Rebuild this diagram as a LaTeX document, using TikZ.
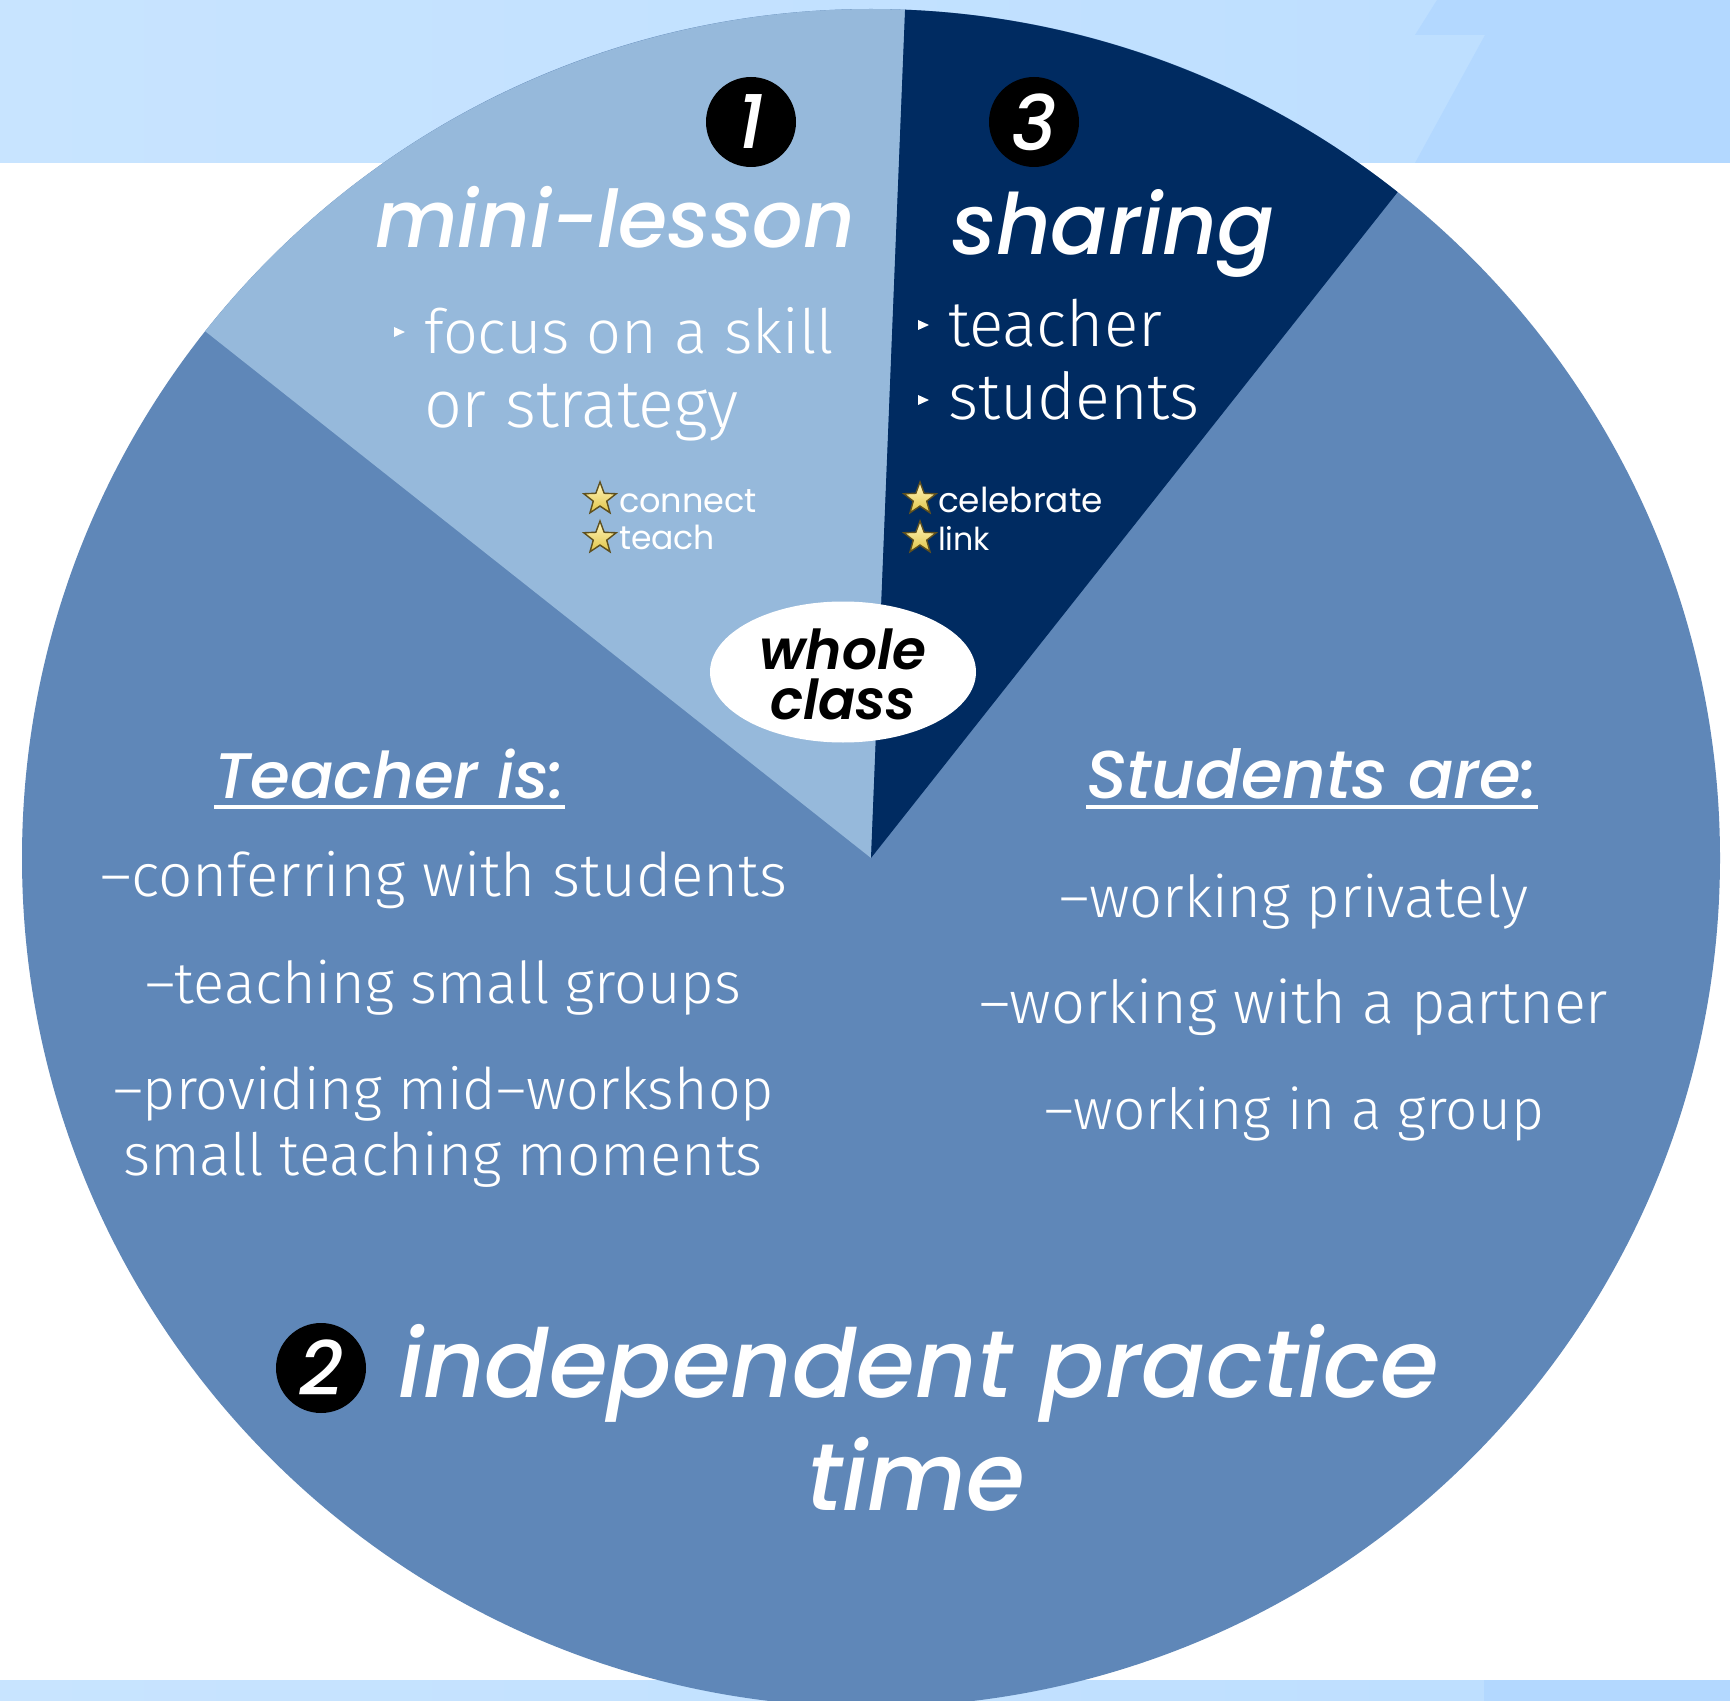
\documentclass[tikz,border=0pt]{standalone}
\usepackage{fontspec}
\usepackage{graphicx}
\IfFontExistsTF{Fira Sans Light}{\setmainfont{Fira Sans Light}}{\setmainfont{Fira Sans}}
\IfFontExistsTF{Poppins Medium}{\newfontfamily\hf{Poppins Medium}}{\newfontfamily\hf{Poppins}}
\IfFontExistsTF{Poppins SemiBold}{\newfontfamily\hfs{Poppins SemiBold}}{\newfontfamily\hfs{Poppins}[UprightFont=*,ItalicFont=* Bold Italic]}
\newfontfamily\hfb{Poppins}
\usetikzlibrary{shapes.geometric}
\definecolor{bandL}{RGB}{200,228,255}
\definecolor{bandM}{RGB}{188,222,255}
\definecolor{bandR}{RGB}{179,216,255}
\definecolor{mainB}{RGB}{95,135,184}
\definecolor{lightB}{RGB}{150,185,219}
\definecolor{darkB}{RGB}{0,43,97}
\definecolor{starY}{RGB}{226,196,70}
\definecolor{starL}{RGB}{255,246,190}
\definecolor{starO}{RGB}{95,80,30}
\newcommand\fw[2]{\resizebox{#1}{!}{#2}}
\begin{document}
\begin{tikzpicture}[x=0.5pt,y=-0.5pt,
  txt/.style={inner sep=0pt, outer sep=0pt, anchor=base west, text=white},
  body/.style={txt, font=\fontsize{20}{24}\selectfont},
  head/.style={txt, font=\hf\itshape\fontsize{20}{24}\selectfont},
  small/.style={txt, font=\hfb\fontsize{14}{16}\selectfont},
  badge/.style={circle, fill=black, minimum size=45pt, inner sep=0pt, text=white, font=\hf\itshape\fontsize{38}{38}\selectfont},
  staricon/.style={star, star points=5, star point ratio=2.4, minimum size=17pt, inner sep=0pt, draw=starO, line width=0.7pt, top color=starL, bottom color=starY},
  uline/.style={white, line width=2pt},
  bullet/.style={fill=white}]
\useasboundingbox (0,0) rectangle (1730,1701);
\fill[white] (0,0) rectangle (1730,1701);
% bands
\shade[left color=bandL, right color=bandM] (0,0) rectangle (1730,163);
\fill[bandR] (1437,0) -- (1730,0) -- (1730,163) -- (1415,163) -- (1485,35) -- (1415,35) -- cycle;
\shade[left color=bandL, right color=bandM] (0,1680) rectangle (1730,1701);
\fill[bandR] (1484,1680) rectangle (1730,1701);
% pie
\coordinate (C) at (871,858);
\fill[mainB] (C) circle[radius=849];
\fill[lightB] (C) -- ++(-141.65:849) arc[start angle=-141.65, end angle=-87.7, radius=849] -- cycle;
\fill[darkB] (C) -- ++(-87.7:849) arc[start angle=-87.7, end angle=-51.66, radius=849] -- cycle;
% badges
\node[badge] (b1) at (751,122) {1};
\node[badge] (b3) at (1034,122) {3};
\node[badge] (b2) at (321,1368) {2};
% headings
\node[head] (ml) at (375,248) {\fw{240pt}{mini-lesson}};
\node[head] (sh) at (951,255) {\fw{162pt}{sharing}};
% bullets
\fill[bullet] (394,327) -- (405,332) -- (394,337) -- cycle;
\fill[bullet] (918,320) -- (929,325) -- (918,330) -- cycle;
\fill[bullet] (918,395) -- (929,400) -- (918,405) -- cycle;
\node[body] (f1) at (424,354) {\fw{205pt}{focus on a skill}};
\node[body] (f2) at (424,428) {\fw{157.5pt}{or strategy}};
\node[body] (s1) at (948,347) {\fw{107pt}{teacher}};
\node[body] (s2) at (948,420) {\fw{126pt}{students}};
% stars
\node[staricon] (st1) at (600,499) {};
\node[staricon] (st2) at (600,538) {};
\node[staricon] (st3) at (920,499) {};
\node[staricon] (st4) at (920,538) {};
\node[small] (c1) at (619,512) {\fw{69pt}{connect}};
\node[small] (c2) at (619,550) {\fw{48pt}{teach}};
\node[small] (c3) at (938,512) {\fw{82.5pt}{celebrate}};
\node[small] (c4) at (938,550) {\fw{26pt}{link}};
% whole class
\node[ellipse, fill=white, minimum width=133pt, minimum height=70.5pt, inner sep=0pt] (wc) at (843,672) {};
\node[inner sep=0pt, align=center, text=black, font=\hfs\itshape\fontsize{27.5}{25}\selectfont] (w1) at (843,674) {whole\\class};
% teacher column
\node[head] (th) at (214,798) {\fw{175.5pt}{Teacher is:}};
\draw[uline] ([yshift=-4.5pt]th.base west) -- ([yshift=-4.5pt]th.base east);
\node[body] (t1) at (100,896) {\fw{343.5pt}{–conferring with students}};
\node[body] (t2) at (145,1003) {\fw{298pt}{–teaching small groups}};
\node[body] (t3) at (113,1109) {\fw{330.5pt}{–providing mid–workshop}};
\node[body] (t4) at (123,1175) {\fw{320pt}{small teaching moments}};
% students column
\node[head] (sa) at (1086,798) {\fw{226pt}{Students are:}};
\draw[uline] ([yshift=-4.5pt]sa.base west) -- ([yshift=-4.5pt]sa.base east);
\node[body] (u1) at (1059,917) {\fw{234.5pt}{–working privately}};
\node[body] (u2) at (979,1023) {\fw{314.5pt}{–working with a partner}};
\node[body] (u3) at (1044,1129) {\fw{250pt}{–working in a group}};
% bottom title
\node[head] (ip) at (398,1397) {\fw{520.5pt}{independent practice}};
\node[head] (tm) at (807,1510) {\fw{109pt}{time}};
\end{tikzpicture}
\end{document}
